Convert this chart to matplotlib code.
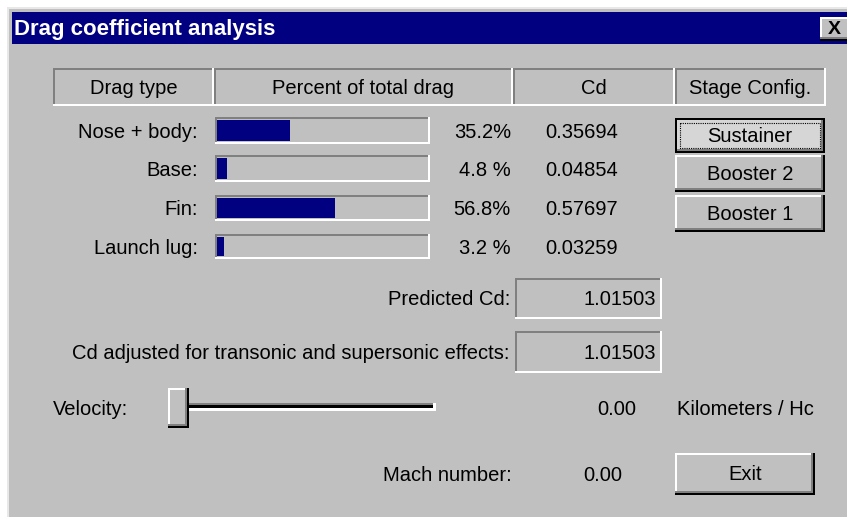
import matplotlib
matplotlib.use("Agg")
import matplotlib.pyplot as plt
from matplotlib.patches import Rectangle

# ---- data ----
headers = ["Drag type", "Percent of total drag", "Cd", "Stage Config."]
drag_types = ["Nose + body:", "Base:", "Fin:", "Launch lug:"]
percent = [35.2, 4.8, 56.8, 3.2]
percent_labels = ["35.2%", "4.8 %", "56.8%", "3.2 %"]
cd_values = [0.35694, 0.04854, 0.57697, 0.03259]
stages = ["Sustainer", "Booster 2", "Booster 1"]
predicted_cd = 1.01503
adjusted_cd = 1.01503
velocity = 0.00
mach_number = 0.00
velocity_unit = "Kilometers / Hc"
title = "Drag coefficient analysis"

W, H = 847, 517
FONT = ["Liberation Sans", "DejaVu Sans"]
FS = 14.5
DY = 1.5
GRAY = "#c0c0c0"
DARK = "#808080"
NAVY = "#000080"

fig = plt.figure(figsize=(W / 100, H / 100), dpi=100, facecolor="white")
ax = fig.add_axes([0, 0, 1, 1])
ax.set_xlim(0, W)
ax.set_ylim(H, 0)
ax.axis("off")


def rect(x0, y0, x1, y1, color, z=1, **kw):
    ax.add_patch(Rectangle((x0, y0), x1 - x0, y1 - y0, facecolor=color,
                           edgecolor="none", zorder=z, **kw))


def sunken(x0, y0, x1, y1, t=2, fill=None):
    if fill:
        rect(x0, y0, x1, y1, fill, z=2)
    rect(x0, y0, x1, y0 + t, DARK, z=3)
    rect(x0, y0, x0 + t, y1, DARK, z=3)
    rect(x0, y1 - t, x1, y1, "white", z=3)
    rect(x1 - t, y0, x1, y1, "white", z=3)


def raised(x0, y0, x1, y1, t=2, fill=GRAY, focus=False):
    rect(x0, y0, x1, y1, fill, z=2)
    rect(x0, y0, x1, y0 + t, "white", z=3)
    rect(x0, y0, x0 + t, y1, "white", z=3)
    rect(x0, y1 - 2 * t, x1, y1, DARK, z=3)
    rect(x1 - 2 * t, y0, x1, y1, DARK, z=3)
    rect(x0, y1 - t, x1, y1, "black", z=4)
    rect(x1 - t, y0, x1, y1, "black", z=4)
    if focus:
        rect(x0, y0, x1, y0 + t, "black", z=4)
        rect(x0, y0, x0 + t, y1, "black", z=4)
        ax.add_patch(Rectangle((x0 + 5, y0 + 5), x1 - x0 - 10, y1 - y0 - 10,
                               facecolor="none", edgecolor="black", lw=0.8,
                               linestyle=(0, (1, 1)), zorder=5))


def txt(x, y, s, ha="left", size=FS, **kw):
    ax.text(x, y + DY, s, ha=ha, va="center", fontsize=size, family=FONT,
            color=kw.pop("color", "black"), zorder=6, **kw)


# ---- window ----
rect(7, 7, W, H, GRAY, z=0)
rect(7, 7, W, 9, "#e8e8e8", z=1)
rect(7, 7, 9, H, "#e8e8e8", z=1)
rect(12, 12, W, 44, NAVY, z=1)
ax.text(14, 30, title, ha="left", va="center", fontsize=16, family=FONT,
        fontweight="bold", color="white", zorder=6)
raised(820, 17, W + 4, 41)
ax.text(834, 30, "X", ha="center", va="center", fontsize=14, family=FONT,
        fontweight="bold", color="black", zorder=6)

# ---- header ----
col_edges = [53, 214, 513, 675, 826]
for i, h in enumerate(headers):
    x0, x1 = col_edges[i], col_edges[i + 1]
    sunken(x0, 68, x1, 106)
    txt((x0 + x1) / 2, 87, h, ha="center")

# ---- rows ----
row_boxes = [(117, 144), (155, 182), (195, 221), (234, 259)]
bx0, bx1 = 215, 430
for i, name in enumerate(drag_types):
    y0, y1 = row_boxes[i]
    yc = (y0 + y1) / 2
    txt(198, yc, name, ha="right")
    sunken(bx0, y0, bx1, y1)
    bax = fig.add_axes([(bx0 + 2) / W, 1 - (y1 - 3) / H,
                        (bx1 - bx0 - 8) / W, (y1 - y0 - 6) / H])
    bax.set_xlim(0, 100)
    bax.set_ylim(-0.5, 0.5)
    bax.barh(0, percent[i], height=1.0, color=NAVY, left=0)
    bax.axis("off")
    bax.patch.set_alpha(0)
    txt(511, yc, percent_labels[i], ha="right")
    txt(545, yc, f"{cd_values[i]:.5f}")

# ---- stage buttons ----
btn_y = [(118, 153), (155, 192), (195, 232)]
for i, s in enumerate(stages):
    y0, y1 = btn_y[i]
    if i == 0:
        raised(675, y0, 825, y1, fill="#d6d6d6", focus=True)
    else:
        raised(675, y0, 825, y1)
    txt(750, (y0 + y1) / 2, s, ha="center")

# ---- predicted cd ----
txt(510, 298, "Predicted Cd:", ha="right")
sunken(515, 278, 662, 319)
txt(656, 298, f"{predicted_cd:.5f}", ha="right")

txt(510, 352, "Cd adjusted for transonic and supersonic effects:", ha="right")
sunken(515, 331, 662, 373)
txt(656, 352, f"{adjusted_cd:.5f}", ha="right")

# ---- velocity slider ----
txt(53, 408, "Velocity:")
rect(178, 404, 435, 408, "black", z=2)
rect(178, 403, 435, 404.5, DARK, z=2)
rect(178, 408, 436, 411, "white", z=2)
rect(433, 403, 436, 411, "white", z=2)
raised(168, 388, 189, 428)
txt(636, 408, f"{velocity:.2f}", ha="right")
txt(677, 408, velocity_unit)

# ---- mach ----
txt(512, 474, "Mach number:", ha="right")
txt(583, 474, f"{mach_number:.2f}")
raised(675, 453, 815, 495)
txt(745, 473, "Exit", ha="center")

fig.savefig("out.png", dpi=100, facecolor="white")
